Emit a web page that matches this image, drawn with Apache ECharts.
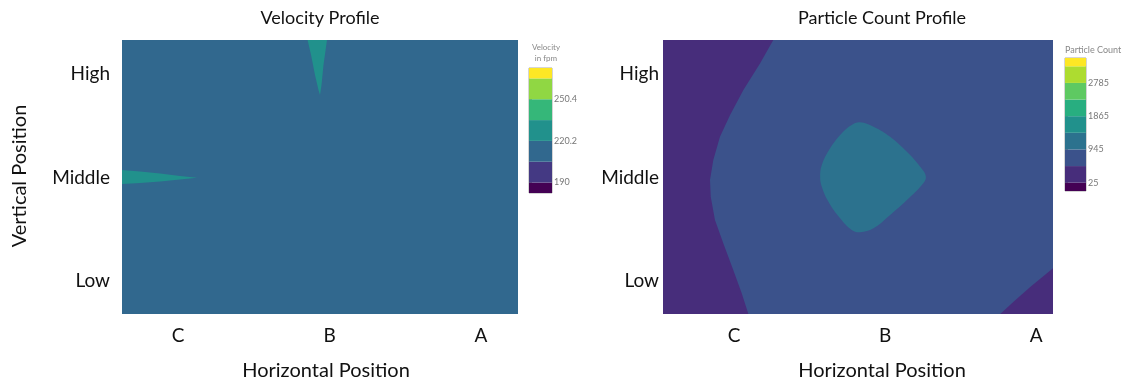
<!DOCTYPE html>
<html>
<head>
<meta charset="utf-8">
<script src="https://cdn.jsdelivr.net/npm/echarts@6/dist/echarts.min.js"></script>
<style>
html,body{margin:0;padding:0;background:#fff;}
#chart{width:1129px;height:387px;}
</style>
</head>
<body>
<div id="chart"></div>
<script>
// ---------- data ----------
const xCategories = ['C', 'B', 'A'];          // positions 0,1,2 on the horizontal axis
const yCategories = ['Low', 'Middle', 'High']; // positions 0,1,2 on the vertical axis

// Velocity (fpm) contour levels and colour bands
const velocityLevels = [190, 205.1, 220.2, 235.3, 250.4, 265.5];
const velocityTickLabels = [190, 220.2, 250.4];
const velocityBarRange = [182.45, 273.05];
const velocityColors = ['#440154', '#443983', '#31688e', '#21918c', '#35b779', '#90d743', '#fde725'];
const velocityXRange = [-0.37, 2.244];
const velocityYRange = [-0.319, 2.329];
// regions: [band value, region index]
const velocityRegionValues = [212, 228, 228];
const velocityWedgeTop = [
  [0.855, 2.329], [0.878, 2.184], [0.904, 1.990], [0.927, 1.845], [0.937, 1.797],
  [0.947, 1.894], [0.960, 2.087], [0.974, 2.232], [0.983, 2.329]
];
const velocityWedgeLeft = [
  [-0.37, 1.072], [-0.251, 1.058], [-0.119, 1.039], [0.013, 1.014], [0.125, 0.998],
  [0.013, 0.981], [-0.119, 0.961], [-0.251, 0.947], [-0.37, 0.937]
];

// Particle count contour levels and colour bands
const particleLevels = [25, 485, 945, 1405, 1865, 2325, 2785, 3245];
const particleTickLabels = [25, 945, 1865, 2785];
const particleBarRange = [-205, 3475];
const particleColors = ['#440154', '#472d7b', '#3b528b', '#2c728e', '#21918c', '#28ae80', '#5ec962', '#addc30', '#fde725'];
const particleXRange = [-0.47, 2.111];
const particleYRange = [-0.319, 2.329];
const particleRegionValues = [700, 300, 300, 1100];
const particleLeftLow = [
  [-0.47, 2.329], [0.260, 2.329], [0.172, 2.103], [0.062, 1.845], [-0.026, 1.604],
  [-0.093, 1.394], [-0.137, 1.169], [-0.159, 0.976], [-0.154, 0.814], [-0.126, 0.589],
  [-0.071, 0.364], [-0.005, 0.106], [0.051, -0.119], [0.095, -0.319], [-0.47, -0.319]
];
const particleCornerLow = [
  [2.111, 0.123], [1.960, -0.058], [1.848, -0.203], [1.762, -0.319], [2.111, -0.319]
];
const particleCenterHigh = [
  [0.834, 1.533], [0.923, 1.491], [1.033, 1.394], [1.144, 1.249], [1.232, 1.104],
  [1.270, 1.008], [1.243, 0.928], [1.144, 0.783], [1.033, 0.638], [0.923, 0.509],
  [0.834, 0.471], [0.779, 0.493], [0.702, 0.606], [0.625, 0.766], [0.581, 0.911],
  [0.570, 1.008], [0.581, 1.121], [0.636, 1.282], [0.713, 1.427], [0.779, 1.507]
];

// ---------- helpers ----------
function fullRect(xr, yr) {
  return [[xr[0], yr[0]], [xr[1], yr[0]], [xr[1], yr[1]], [xr[0], yr[1]]];
}
const velocityPolys = [fullRect(velocityXRange, velocityYRange), velocityWedgeTop, velocityWedgeLeft];
const velocitySmooth = [0, 0, 0];
const particlePolys = [fullRect(particleXRange, particleYRange), particleLeftLow, particleCornerLow, particleCenterHigh];
const particleSmooth = [0, 0, 0, 0.4];

function pieces(levels, colors) {
  const out = [{ lt: levels[0], color: colors[0] }];
  for (let i = 0; i < levels.length - 1; i++) out.push({ gte: levels[i], lt: levels[i + 1], color: colors[i + 1] });
  out.push({ gte: levels[levels.length - 1], color: colors[levels.length] });
  return out;
}
function bands(levels, range) {
  const edges = [range[0]].concat(levels, [range[1]]);
  const d = [];
  for (let i = 0; i < edges.length - 1; i++) d.push([edges[i], edges[i + 1]]);
  return d;
}
function regionRenderer(polys, smooth) {
  return function (params, api) {
    const idx = api.value(1);
    const pts = polys[idx].map(p => api.coord(p));
    return { type: 'polygon', shape: { points: pts, smooth: smooth[idx] }, style: { fill: api.visual('color') } };
  };
}
function barRenderer(params, api) {
  const p0 = api.coord([0, api.value(0)]);
  const p1 = api.coord([1, api.value(1)]);
  return { type: 'rect', shape: { x: p0[0], y: p1[1], width: p1[0] - p0[0], height: p0[1] - p1[1] }, style: { fill: api.visual('color') } };
}

const FONT = 'Lato, "Open Sans", sans-serif';
const mainXAxis = (gi, range) => ({
  type: 'value', gridIndex: gi, min: range[0], max: range[1],
  axisLine: { show: false }, axisTick: { show: false }, splitLine: { show: false },
  axisLabel: { customValues: [0, 1, 2], formatter: v => xCategories[Math.round(v)], fontFamily: FONT, fontSize: 19, color: '#111', margin: 12 }
});
const mainYAxis = (gi, range, margin) => ({
  type: 'value', gridIndex: gi, min: range[0], max: range[1],
  axisLine: { show: false }, splitLine: { show: false },
  axisTick: { show: true, customValues: [0, 1, 2], length: 4, lineStyle: { color: '#c8c8c8' } },
  axisLabel: { customValues: [0, 1, 2], formatter: v => yCategories[Math.round(v)], fontFamily: FONT, fontSize: 19, color: '#111', margin: margin }
});
const barXAxis = gi => ({ type: 'value', gridIndex: gi, min: 0, max: 1, show: false });
const barYAxis = (gi, range, ticks) => ({
  type: 'value', gridIndex: gi, min: range[0], max: range[1], position: 'right',
  axisLine: { show: false }, splitLine: { show: false },
  axisTick: { show: true, customValues: ticks, length: 3, lineStyle: { color: '#999' } },
  axisLabel: { customValues: ticks, formatter: v => String(v), fontFamily: FONT, fontSize: 9, color: '#777', margin: 2 }
});

const option = {
  backgroundColor: '#fff',
  animation: false,
  grid: [
    { left: 122, top: 40, width: 396, height: 274 },
    { left: 663, top: 40, width: 390, height: 274 },
    { left: 529, top: 68, width: 23, height: 125, show: true, borderColor: '#aaa', borderWidth: 1 },
    { left: 1065, top: 58, width: 21, height: 133, show: true, borderColor: '#aaa', borderWidth: 1 }
  ],
  xAxis: [mainXAxis(0, velocityXRange), mainXAxis(1, particleXRange), barXAxis(2), barXAxis(3)],
  yAxis: [mainYAxis(0, velocityYRange, 12), mainYAxis(1, particleYRange, 4),
          barYAxis(2, velocityBarRange, velocityTickLabels), barYAxis(3, particleBarRange, particleTickLabels)],
  visualMap: [
    { type: 'piecewise', show: false, seriesIndex: [0, 2], dimension: 0, pieces: pieces(velocityLevels, velocityColors) },
    { type: 'piecewise', show: false, seriesIndex: [1, 3], dimension: 0, pieces: pieces(particleLevels, particleColors) }
  ],
  series: [
    { type: 'custom', xAxisIndex: 0, yAxisIndex: 0, renderItem: regionRenderer(velocityPolys, velocitySmooth),
      data: velocityRegionValues.map((v, i) => [v, i]), encode: { x: -1, y: -1 }, silent: true },
    { type: 'custom', xAxisIndex: 1, yAxisIndex: 1, renderItem: regionRenderer(particlePolys, particleSmooth),
      data: particleRegionValues.map((v, i) => [v, i]), encode: { x: -1, y: -1 }, silent: true },
    { type: 'custom', xAxisIndex: 2, yAxisIndex: 2, renderItem: barRenderer,
      data: bands(velocityLevels, velocityBarRange), encode: { y: [0, 1] }, silent: true },
    { type: 'custom', xAxisIndex: 3, yAxisIndex: 3, renderItem: barRenderer,
      data: bands(particleLevels, particleBarRange), encode: { y: [0, 1] }, silent: true }
  ],
  graphic: [
    { type: 'text', x: 320, y: 18, style: { text: 'Velocity Profile', font: '18px ' + FONT, fill: '#111', align: 'center', verticalAlign: 'middle' } },
    { type: 'text', x: 882, y: 18, style: { text: 'Particle Count Profile', font: '18px ' + FONT, fill: '#111', align: 'center', verticalAlign: 'middle' } },
    { type: 'text', x: 326, y: 371, style: { text: 'Horizontal Position', font: '20px ' + FONT, fill: '#111', align: 'center', verticalAlign: 'middle' } },
    { type: 'text', x: 882, y: 371, style: { text: 'Horizontal Position', font: '20px ' + FONT, fill: '#111', align: 'center', verticalAlign: 'middle' } },
    { type: 'text', x: 20, y: 176, rotation: Math.PI / 2, style: { text: 'Vertical Position', font: '20px ' + FONT, fill: '#111', align: 'center', verticalAlign: 'middle' } },
    { type: 'text', x: 546, y: 47, style: { text: 'Velocity', font: '8px ' + FONT, fill: '#888', align: 'center', verticalAlign: 'middle' } },
    { type: 'text', x: 546, y: 58, style: { text: 'in fpm', font: '8px ' + FONT, fill: '#888', align: 'center', verticalAlign: 'middle' } },
    { type: 'text', x: 1065, y: 50, style: { text: 'Particle Count', font: '9px ' + FONT, fill: '#888', align: 'left', verticalAlign: 'middle' } }
  ]
};

const chart = echarts.init(document.getElementById('chart'), null, { renderer: 'canvas' });
chart.setOption(option);
</script>
</body>
</html>
